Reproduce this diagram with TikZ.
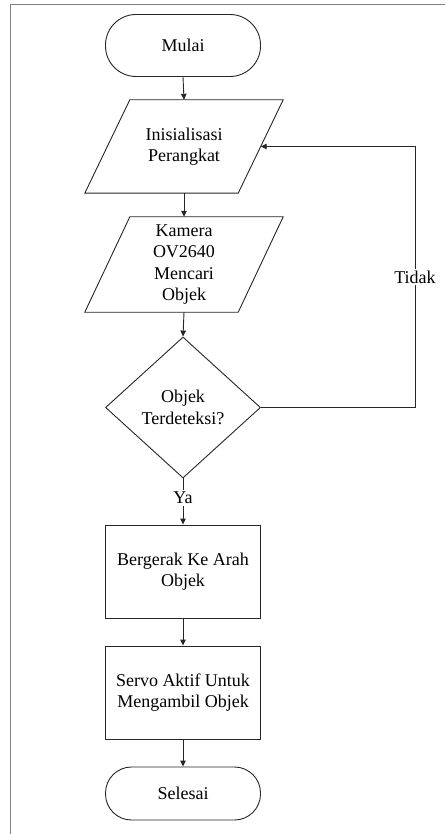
\documentclass[tikz,border=0pt]{standalone}
\usepackage{fontspec}
\setmainfont{Liberation Serif}
\usetikzlibrary{shapes.geometric,arrows.meta}
\begin{document}
\begin{tikzpicture}[x=1pt,y=-1pt,
  every node/.style={font=\fontsize{18}{21.5}\selectfont, align=center, inner sep=0pt},
  ln/.style={draw=black!85, line width=0.9pt},
  arr/.style={ln, -{Triangle[length=6pt,width=5.5pt]}},
  term/.style={ln, rectangle, minimum width=155pt},
  procbox/.style={ln, rectangle, minimum width=155pt, minimum height=93pt},
  iobody/.style={rectangle, minimum width=153pt, minimum height=93pt},
  decision/.style={ln, diamond, aspect=1.1, minimum width=155pt, minimum height=141pt}
]
\useasboundingbox (0,0) rectangle (445,834);
% frame
\draw[gray, line width=1.6pt] (10.5,834) -- (10.5,4.5) -- (445,4.5);

\node[term, minimum height=62pt, rounded corners=30.5pt] (start) at (183,45.5) {Mulai};
\node[iobody] (init) at (184,146.5) {Inisialisasi\\Perangkat};
\draw[ln] ([xshift=22.5pt]init.north west) -- ([xshift=22.5pt]init.north east)
  -- ([xshift=-22.5pt]init.south east) -- ([xshift=-22.5pt]init.south west) -- cycle;
\node[iobody, minimum height=95pt] (cam) at (184,264.5) {Kamera\\OV2640\\Mencari\\Objek};
\draw[ln] ([xshift=22.5pt]cam.north west) -- ([xshift=22.5pt]cam.north east)
  -- ([xshift=-22.5pt]cam.south east) -- ([xshift=-22.5pt]cam.south west) -- cycle;
\node[decision] (dec) at (183,407.5) {Objek\\Terdeteksi?};
\node[procbox] (move) at (183,571.5) {Bergerak Ke Arah\\Objek};
\node[procbox] (servo) at (183,692.5) {Servo Aktif Untuk\\Mengambil Objek};
\node[term, minimum height=53pt, rounded corners=26pt] (stop) at (183,793.5) {Selesai};

\coordinate (c1) at (415,407.5);
\coordinate (c2) at (415,146.5);

\draw[arr] (start.south) -- (init.north);
\draw[arr] (init.south) -- (cam.north);
\draw[arr] (cam.south) -- (dec.north);
\draw[arr] (dec.south) -- node[pos=0.42, fill=white, inner ysep=2pt] {Ya} (move.north);
\draw[arr] (move.south) -- (servo.north);
\draw[arr] (servo.south) -- (stop.north);
\draw[arr] (dec.east) -- (c1) -- node[pos=0.5, fill=white, inner ysep=2pt] {Tidak} (c2) -- (init.east);
\end{tikzpicture}
\end{document}
